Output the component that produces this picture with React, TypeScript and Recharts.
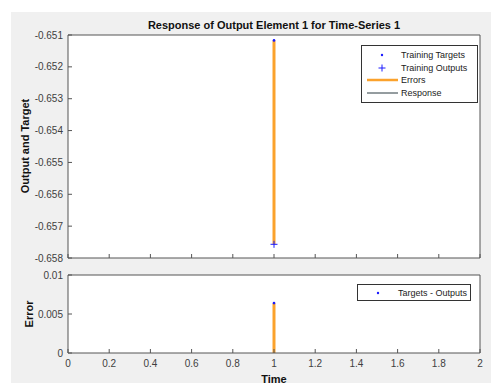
import {
  ComposedChart,
  Line,
  Scatter,
  XAxis,
  YAxis,
  CartesianGrid,
  Legend,
} from "recharts";

const time = [1];
const trainingTargets = [-0.65117];
const trainingOutputs = [-0.65757];
const errors = [0.0064];

const xTicks = [0, 0.2, 0.4, 0.6, 0.8, 1, 1.2, 1.4, 1.6, 1.8, 2];
const topTicks = [-0.658, -0.657, -0.656, -0.655, -0.654, -0.653, -0.652, -0.651];
const errTicks = [0, 0.005, 0.01];

const legendTop = ["Training Targets", "Training Outputs", "Errors", "Response"];
const legendBottom = ["Targets - Outputs"];

const FONT = '"Liberation Sans", Arial, Helvetica, sans-serif';
const AXIS = "#555555";
const TEXT = "#404040";
const ORANGE = "#FBA22C";
const BLUE = "#1a1aff";

const targetPts = time.map((t, i) => ({ time: t, value: trainingTargets[i] }));
const outputPts = time.map((t, i) => ({ time: t, value: trainingOutputs[i] }));
const errorPts = time.map((t, i) => ({ time: t, value: errors[i] }));

const Dot = (props: any) => <circle cx={props.cx} cy={props.cy} r={1.3} fill={BLUE} />;
const Plus = (props: any) => (
  <g stroke={BLUE} strokeWidth={1}>
    <line x1={props.cx - 3.5} x2={props.cx + 3.5} y1={props.cy} y2={props.cy} />
    <line x1={props.cx} x2={props.cx} y1={props.cy - 3.5} y2={props.cy + 3.5} />
  </g>
);

const tickStyle = { fontSize: 10, fill: TEXT, fontFamily: FONT };
const blank = () => "";
const legendWrap = { left: 0, top: 0, width: 0, height: 0 };

const marker = (name: string) => {
  if (name === "Training Targets" || name === "Targets - Outputs")
    return <circle cx={15} cy={5} r={1.2} fill={BLUE} />;
  if (name === "Training Outputs")
    return (
      <g stroke={BLUE} strokeWidth={1}>
        <line x1={11.5} x2={18.5} y1={5} y2={5} />
        <line x1={15} x2={15} y1={1.5} y2={8.5} />
      </g>
    );
  if (name === "Errors") return <line x1={0} x2={31} y1={5} y2={5} stroke={ORANGE} strokeWidth={2.5} />;
  return <line x1={0} x2={31} y1={5} y2={5} stroke="#2b3a40" strokeWidth={1} />;
};

const TopLegend = () => (
  <div
    style={{
      position: "absolute",
      left: 361,
      top: 45,
      width: 115,
      height: 53,
      background: "#fff",
      border: "1px solid #333",
      fontFamily: FONT,
      fontSize: 9,
      lineHeight: "10px",
      color: "#222",
      paddingTop: 3,
      textAlign: "left",
    }}
  >
    {legendTop.map((n) => (
      <div key={n} style={{ display: "flex", alignItems: "center", height: 12.6 }}>
        <svg width={32} height={10} style={{ marginLeft: 5, marginRight: 2 }}>
          {marker(n)}
        </svg>
        <span>{n}</span>
      </div>
    ))}
  </div>
);

const BottomLegend = () => (
  <div
    style={{
      position: "absolute",
      left: 357,
      top: 22,
      width: 112,
      height: 15,
      background: "#fff",
      border: "1px solid #333",
      fontFamily: FONT,
      fontSize: 9,
      lineHeight: "10px",
      color: "#222",
      textAlign: "left",
    }}
  >
    {legendBottom.map((n) => (
      <div key={n} style={{ display: "flex", alignItems: "center", height: 15 }}>
        <svg width={32} height={10} style={{ marginLeft: 5, marginRight: 3 }}>
          {marker(n)}
        </svg>
        <span>{n}</span>
      </div>
    ))}
  </div>
);

export default function App() {
  return (
    <div
      style={{
        position: "absolute",
        left: 0,
        top: 0,
        width: 491,
        height: 383,
        overflow: "hidden",
        background: "#fff",
        fontFamily: FONT,
      }}
    >
      <div style={{ position: "absolute", left: 11, top: 12, width: 480, height: 371, background: "#f0f0f0" }} />

      <div
        style={{
          position: "absolute",
          left: 0,
          width: 548,
          top: 19,
          textAlign: "center",
          fontWeight: "bold",
          fontSize: 11,
          color: "#111",
        }}
      >
        Response of Output Element 1 for Time-Series 1
      </div>

      <div style={{ position: "absolute", left: 0, top: 0 }}>
        <ComposedChart width={491} height={270} margin={{ top: 30, right: 10, bottom: 0, left: 18 }}>
          <CartesianGrid fill="#ffffff" stroke="none" />
          <XAxis
            dataKey="time"
            type="number"
            domain={[0, 2]}
            ticks={xTicks}
            height={12}
            tickSize={-4}
            tickFormatter={blank}
            stroke={AXIS}
            allowDataOverflow
          />
          <XAxis
            xAxisId="top"
            orientation="top"
            type="number"
            domain={[0, 2]}
            ticks={xTicks}
            height={5}
            tickSize={-4}
            tickFormatter={blank}
            stroke={AXIS}
          />
          <YAxis
            type="number"
            domain={[-0.658, -0.651]}
            ticks={topTicks}
            width={50}
            tickSize={-4}
            tickMargin={9}
            tickFormatter={(v: number) => v.toFixed(3)}
            tick={tickStyle}
            stroke={AXIS}
            allowDataOverflow
          />
          <YAxis
            yAxisId="r"
            orientation="right"
            type="number"
            domain={[-0.658, -0.651]}
            ticks={topTicks}
            width={1}
            tickSize={-4}
            tickFormatter={blank}
            stroke={AXIS}
          />
          {time.map((t, i) => (
            <Line
              key={t}
              data={[targetPts[i], outputPts[i]]}
              dataKey="value"
              stroke={ORANGE}
              strokeWidth={3}
              dot={false}
              isAnimationActive={false}
            />
          ))}
          <Scatter data={outputPts} dataKey="value" shape={<Plus />} isAnimationActive={false} />
          <Scatter data={targetPts} dataKey="value" shape={<Dot />} isAnimationActive={false} />
          <Legend content={<TopLegend />} wrapperStyle={legendWrap} />
        </ComposedChart>
      </div>

      <div style={{ position: "absolute", left: 0, top: 262 }}>
        <ComposedChart width={491} height={121} margin={{ top: 8, right: 10, bottom: 0, left: 18 }}>
          <CartesianGrid fill="#ffffff" stroke="none" />
          <XAxis
            dataKey="time"
            type="number"
            domain={[0, 2]}
            ticks={xTicks}
            height={30}
            tickSize={-4}
            tickMargin={11}
            tick={tickStyle}
            stroke={AXIS}
            allowDataOverflow
          />
          <XAxis
            xAxisId="top"
            orientation="top"
            type="number"
            domain={[0, 2]}
            ticks={xTicks}
            height={5}
            tickSize={-4}
            tickFormatter={blank}
            stroke={AXIS}
          />
          <YAxis
            type="number"
            domain={[0, 0.01]}
            ticks={errTicks}
            width={50}
            tickSize={-4}
            tickMargin={9}
            tick={tickStyle}
            stroke={AXIS}
            allowDataOverflow
          />
          <YAxis
            yAxisId="r"
            orientation="right"
            type="number"
            domain={[0, 0.01]}
            ticks={errTicks}
            width={1}
            tickSize={-4}
            tickFormatter={blank}
            stroke={AXIS}
          />
          {time.map((t, i) => (
            <Line
              key={t}
              data={[{ time: t, value: 0 }, errorPts[i]]}
              dataKey="value"
              stroke={ORANGE}
              strokeWidth={3}
              dot={false}
              isAnimationActive={false}
            />
          ))}
          <Scatter data={errorPts} dataKey="value" shape={<Dot />} isAnimationActive={false} />
          <Legend content={<BottomLegend />} wrapperStyle={legendWrap} />
        </ComposedChart>
      </div>

      <div
        style={{
          position: "absolute",
          left: 6,
          top: 146,
          width: 40,
          height: 14,
          transform: "translate(0, -50%) rotate(-90deg)",
          fontWeight: "bold",
          fontSize: 11,
          color: "#111",
          whiteSpace: "nowrap",
          display: "flex",
          justifyContent: "center",
        }}
      >
        Output and Target
      </div>
      <div
        style={{
          position: "absolute",
          left: 10,
          top: 314,
          width: 40,
          height: 14,
          transform: "translate(0, -50%) rotate(-90deg)",
          fontWeight: "bold",
          fontSize: 11,
          color: "#111",
          whiteSpace: "nowrap",
          display: "flex",
          justifyContent: "center",
        }}
      >
        Error
      </div>
      <div
        style={{
          position: "absolute",
          left: 0,
          width: 548,
          top: 373,
          textAlign: "center",
          fontWeight: "bold",
          fontSize: 11,
          color: "#111",
        }}
      >
        Time
      </div>
    </div>
  );
}
